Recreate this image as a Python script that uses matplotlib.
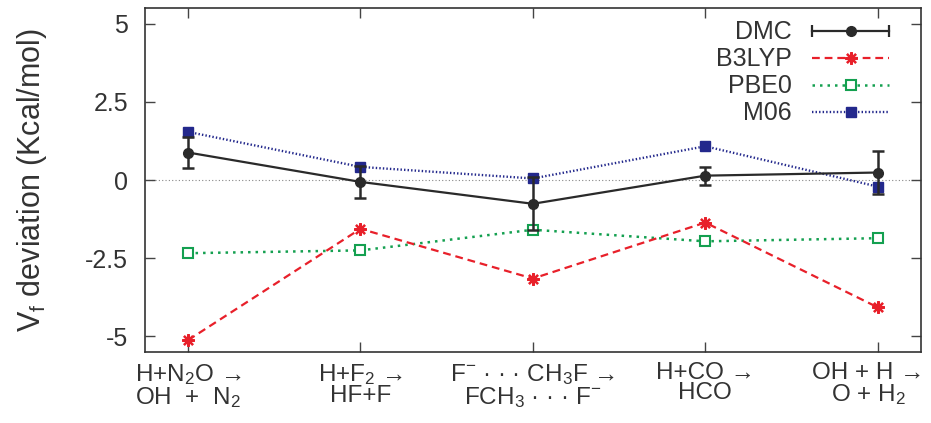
import matplotlib
matplotlib.use("Agg")
import matplotlib.pyplot as plt
import matplotlib.transforms as mtransforms
from matplotlib.lines import Line2D
from matplotlib.legend_handler import HandlerBase

plt.rcParams['font.family'] = ['Liberation Sans', 'DejaVu Sans']
plt.rcParams['mathtext.fontset'] = 'custom'
plt.rcParams['mathtext.rm'] = 'Liberation Sans'
plt.rcParams['mathtext.it'] = 'Liberation Sans'
plt.rcParams['mathtext.bf'] = 'Liberation Sans:bold'

reactions = [
    "H+N$_2$O →\nOH  +  N$_2$",
    "H+F$_2$ →\nHF+F",
    "F$^{-}$ · · · CH$_3$F →\nFCH$_3$ · · · F$^{-}$",
    "H+CO →\nHCO",
    "OH + H →\nO + H$_2$",
]
dmc = [0.88, -0.06, -0.76, 0.14, 0.24]
dmc_err = [0.48, 0.50, 0.85, 0.29, 0.70]
b3lyp = [-5.12, -1.56, -3.15, -1.36, -4.07]
pbe0 = [-2.34, -2.25, -1.59, -1.96, -1.86]
m06 = [1.54, 0.42, 0.05, 1.08, -0.21]

yticks = [-5, -2.5, 0, 2.5, 5]
ytick_labels = ["-5", "-2.5", "0", "2.5", "5"]

TXT = '#333333'
C_DMC = '#2a2a2a'
C_B3 = '#e8202a'
C_PBE = '#14a050'
C_M06 = '#23288c'

x = list(range(1, len(reactions) + 1))

fig = plt.figure(figsize=(9.31, 4.23), dpi=100)
ax = fig.add_axes([0.1557, 0.1678, 0.989 - 0.1557, 0.981 - 0.1678])

ax.axhline(0, color='#888888', lw=0.8, ls=(0, (1, 2)), zorder=1)

ax.plot(x, m06, color=C_M06, lw=1.7, ls=(0, (0.6, 0.9)), marker='s', ms=7,
        mfc=C_M06, mec=C_M06, zorder=3)
ax.plot(x, pbe0, color=C_PBE, lw=1.8, ls=(0, (1.0, 2.0)), marker='s', ms=7.5,
        mfc='white', mec=C_PBE, mew=1.5, zorder=3)
ax.plot(x, b3lyp, color=C_B3, lw=1.6, ls=(0, (3.5, 2.2)), marker=(8, 2, 0), ms=9,
        mec=C_B3, mew=1.6, zorder=3)
ax.errorbar(x, dmc, yerr=dmc_err, color=C_DMC, lw=1.6, marker='o', ms=7,
            capsize=4.5, capthick=1.8, elinewidth=1.8, zorder=4)

ax.set_xlim(0.75, 5.25)
ax.set_ylim(-5.5, 5.5)
ax.set_xticks(x)
ax.set_xticklabels(reactions, fontsize=17.5, color=TXT, linespacing=0.9)
ax.set_yticks(yticks)
ax.set_yticklabels(ytick_labels, fontsize=18, color=TXT)
ax.tick_params(direction='in', length=7, width=1.0, top=True, right=True,
               colors='#444444', labelcolor=TXT)
ax.tick_params(axis='x', pad=7)
ax.tick_params(axis='y', pad=12)
for s in ax.spines.values():
    s.set_linewidth(1.2)
    s.set_color('#333333')

# nudge the right-most reaction label so it stays inside the figure
last = ax.get_xticklabels()[-1]
last.set_transform(last.get_transform() +
                   mtransforms.ScaledTranslation(-7 / 72, 0, fig.dpi_scale_trans))

ax.set_ylabel("V$_\\mathregular{f}$ deviation (Kcal/mol)", fontsize=22, color=TXT)
ax.yaxis.set_label_coords(-0.1235, 0.5)


class HandlerCapBar(HandlerBase):
    def create_artists(self, legend, orig_handle, xdescent, ydescent,
                       width, height, fontsize, trans):
        y = height / 2 - ydescent
        x0 = -xdescent
        x1 = x0 + width
        line = Line2D([x0, x1], [y, y], color=C_DMC, lw=1.6)
        caps = Line2D([x0, x1], [y, y], ls='none', marker='|', ms=9,
                      mew=1.6, color=C_DMC)
        dot = Line2D([(x0 + x1) / 2], [y], ls='none', marker='o', ms=7,
                     color=C_DMC)
        for a in (line, caps, dot):
            a.set_transform(trans)
        return [line, caps, dot]


h_dmc = Line2D([], [], color=C_DMC)
h_b3 = Line2D([], [], color=C_B3, lw=1.6, ls=(0, (3.5, 2.2)), marker=(8, 2, 0),
              ms=9, mec=C_B3, mew=1.6)
h_pbe = Line2D([], [], color=C_PBE, lw=1.8, ls=(0, (1.0, 2.0)), marker='s',
               ms=7.5, mfc='white', mec=C_PBE, mew=1.5)
h_m06 = Line2D([], [], color=C_M06, lw=1.7, ls=(0, (0.6, 0.9)), marker='s',
               ms=7, mfc=C_M06, mec=C_M06)

leg = ax.legend([h_dmc, h_b3, h_pbe, h_m06], ["DMC", "B3LYP", "PBE0", "M06"],
                handler_map={h_dmc: HandlerCapBar()},
                loc='upper right', bbox_to_anchor=(0.982, 1.015),
                markerfirst=False, frameon=False, fontsize=18,
                handlelength=3.1, handletextpad=0.8, labelspacing=0.12,
                numpoints=1, borderpad=0.2)
for t in leg.get_texts():
    t.set_color(TXT)

fig.savefig("out.png", dpi=100)
